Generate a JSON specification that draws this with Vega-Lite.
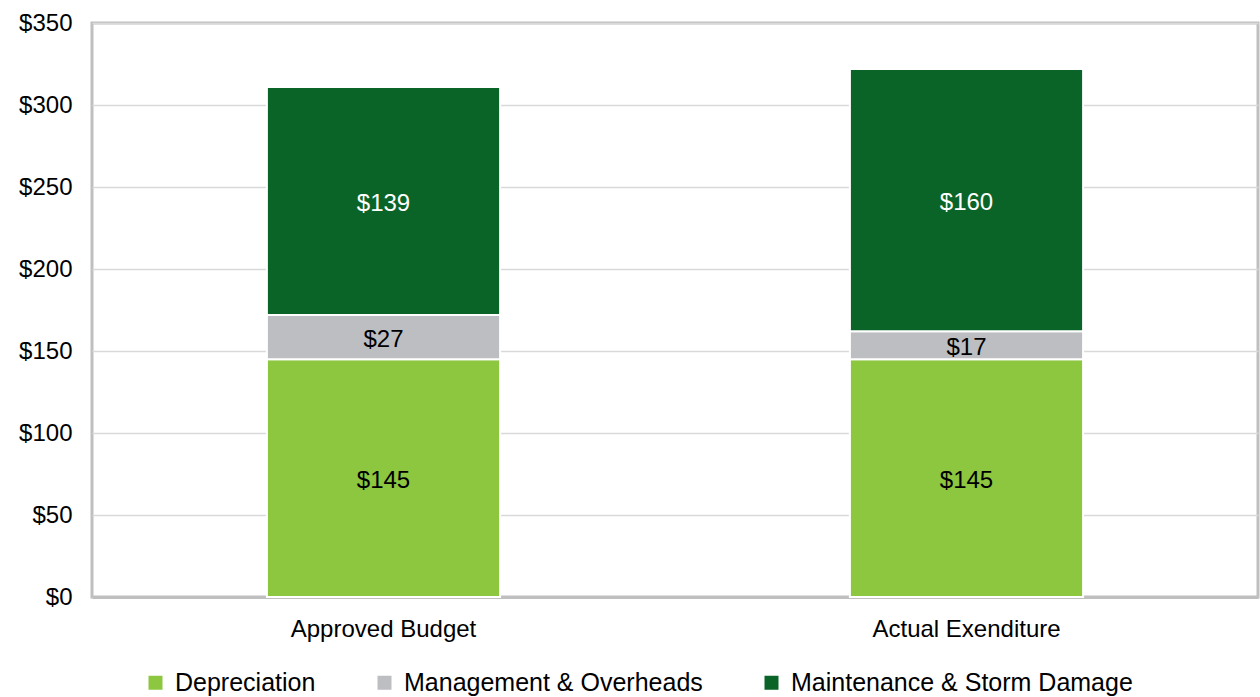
{
  "$schema": "https://vega.github.io/schema/vega-lite/v6.json",
  "width": 1166,
  "height": 574,
  "autosize": "none",
  "padding": {"left": 92, "top": 23, "right": 2, "bottom": 100},
  "background": "white",
  "config": {
    "font": "Liberation Sans",
    "view": {"stroke": "#bfbfbf", "strokeWidth": 3}
  },
  "data": {
    "values": [
      {"category": "Approved Budget", "series": "Depreciation", "order": 1, "value": 145},
      {"category": "Approved Budget", "series": "Management & Overheads", "order": 2, "value": 27},
      {"category": "Approved Budget", "series": "Maintenance & Storm Damage", "order": 3, "value": 139},
      {"category": "Actual Exenditure", "series": "Depreciation", "order": 1, "value": 145},
      {"category": "Actual Exenditure", "series": "Management & Overheads", "order": 2, "value": 17},
      {"category": "Actual Exenditure", "series": "Maintenance & Storm Damage", "order": 3, "value": 160}
    ]
  },
  "transform": [
    {"stack": "value", "groupby": ["category"], "sort": [{"field": "order", "order": "ascending"}], "as": ["y0", "y1"]},
    {"calculate": "(datum.y0 + datum.y1) / 2", "as": "ymid"}
  ],
  "encoding": {
    "x": {
      "field": "category", "type": "nominal",
      "sort": ["Approved Budget", "Actual Exenditure"],
      "scale": {"paddingInner": 0.6, "paddingOuter": 0.3},
      "axis": {"title": null, "labelAngle": 0, "labelFontSize": 24, "labelColor": "#000000", "labelLimit": 0, "ticks": false, "labelPadding": 20, "domainColor": "#bfbfbf", "domainWidth": 3}
    }
  },
  "layer": [
    {
      "mark": {"type": "bar", "stroke": "white", "strokeWidth": 2},
      "encoding": {
        "y": {
          "field": "y0", "type": "quantitative",
          "scale": {"domain": [0, 350], "nice": false},
          "axis": {"title": null, "values": [0, 50, 100, 150, 200, 250, 300, 350], "format": "$.0f", "labelFontSize": 24, "labelColor": "#000000", "ticks": false, "labelPadding": 20, "domain": false, "gridColor": "#d9d9d9", "gridWidth": 1.5}
        },
        "y2": {"field": "y1"},
        "color": {
          "field": "series", "type": "nominal",
          "sort": ["Depreciation", "Management & Overheads", "Maintenance & Storm Damage"],
          "scale": {"domain": ["Depreciation", "Management & Overheads", "Maintenance & Storm Damage"], "range": ["#8dc63f", "#bdbec2", "#0a6427"]},
          "legend": {
            "title": null, "orient": "none", "legendX": 51, "legendY": 647, "direction": "horizontal",
            "symbolType": "square", "symbolSize": 196, "symbolStrokeWidth": 0,
            "labelFontSize": 25, "labelColor": "#000000", "labelLimit": 0, "columnPadding": 56, "labelOffset": 7
          }
        }
      }
    },
    {
      "mark": {"type": "text", "fontSize": 24, "baseline": "middle", "align": "center", "dy": 3},
      "encoding": {
        "y": {"field": "ymid", "type": "quantitative"},
        "text": {"field": "value", "type": "quantitative", "format": "$.0f"},
        "color": {
          "condition": {"test": "datum.series === 'Maintenance & Storm Damage'", "value": "#ffffff"},
          "value": "#000000"
        }
      }
    }
  ]
}
